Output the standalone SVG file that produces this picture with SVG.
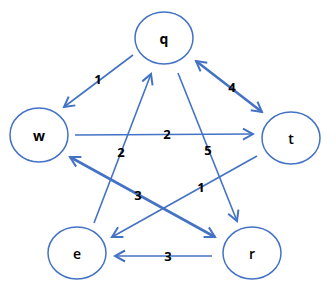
<svg xmlns="http://www.w3.org/2000/svg" width="336" height="293" viewBox="0 0 336 293">
<style>
.node ellipse{fill:#fff;stroke:#4472C4;stroke-width:1.5}
.node text{font-family:"Open Sans","Liberation Sans",sans-serif;font-size:14px;fill:#000;text-anchor:middle;dominant-baseline:central}
.e{stroke:#4472C4;stroke-width:1.6;fill:none;marker-end:url(#ah)}
.thick{stroke-width:2.6}
.both{marker-start:url(#ah)}
.lbl{font-family:"Open Sans","Liberation Sans",sans-serif;font-size:13px;font-weight:bold;fill:#000;text-anchor:middle;dominant-baseline:central}
</style>
<defs>
<marker id="ah" viewBox="-12 -7 14 14" refX="0" refY="0" markerWidth="14" markerHeight="14" markerUnits="userSpaceOnUse" orient="auto-start-reverse">
<path d="M-10,-5.5 L0,0 L-10,5.5" fill="none" stroke="#4472C4" stroke-width="2"/>
</marker>
</defs>
<g id="connectors">
<line class="e" x1="133" y1="55" x2="64" y2="107"/>
<line class="e" x1="75" y1="135" x2="253" y2="134"/>
<line class="e" x1="94" y1="223" x2="151" y2="74"/>
<line class="e" x1="178" y1="73" x2="237" y2="221"/>
<line class="e thick both" x1="196" y1="61" x2="262" y2="112"/>
<line class="e" x1="257" y1="156" x2="112" y2="237"/>
<line class="e thick both" x1="70" y1="157" x2="215" y2="237"/>
<line class="e" x1="212" y1="256" x2="115" y2="256"/>
<text class="lbl" x="98" y="79">1</text>
<text class="lbl" x="167" y="134">2</text>
<text class="lbl" x="121" y="152">2</text>
<text class="lbl" x="208" y="150">5</text>
<text class="lbl" x="232" y="87">4</text>
<text class="lbl" x="201" y="187">1</text>
<text class="lbl" x="138" y="195">3</text>
<text class="lbl" x="168" y="256">3</text>
</g>
<g id="q" class="node"><ellipse cx="164" cy="38" rx="29" ry="26"/><text x="164" y="38" font-weight="bold" font-size="13">q</text></g>
<g id="w" class="node"><ellipse cx="39" cy="135" rx="29" ry="27"/><text x="39" y="135" font-weight="bold" font-size="13">w</text></g>
<g id="t" class="node"><ellipse cx="291" cy="138" rx="29" ry="26"/><text x="291" y="138" font-weight="600">t</text></g>
<g id="e" class="node"><ellipse cx="77" cy="253" rx="29" ry="26"/><text x="77" y="253" font-weight="600">e</text></g>
<g id="r" class="node"><ellipse cx="252" cy="253" rx="29" ry="26"/><text x="252" y="253" font-weight="600">r</text></g>
</svg>
